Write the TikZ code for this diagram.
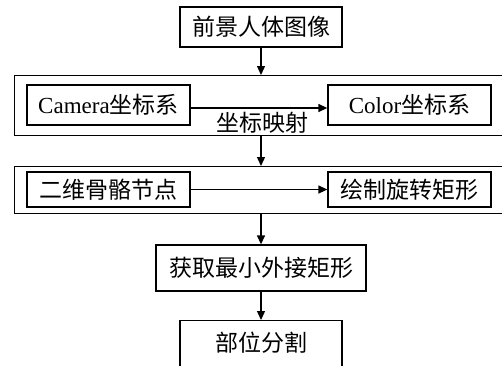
\documentclass[tikz,border=0pt]{standalone}
\usepackage{fontspec}
\setmainfont{Liberation Serif}
\newfontfamily\cjk{Noto Sans CJK SC}
\usetikzlibrary{arrows.meta}
\begin{document}
\begin{tikzpicture}[x=1pt,y=-1pt,
  box/.style={draw,line width=1.3pt,inner sep=0pt,font=\fontsize{23}{25}\selectfont},
  frame/.style={draw,line width=1.3pt,minimum width=500pt,anchor=north west,inner sep=0pt},
  arr/.style={line width=1.3pt,-{Triangle[length=9pt,width=8pt]}},
  lbl/.style={font=\fontsize{23}{25}\selectfont,inner sep=0pt}]
\useasboundingbox (0,0) rectangle (502,365);
% outer frames
\node[frame,minimum height=60pt] (f1) at (14,75) {};
\node[frame,minimum height=47pt] (f2) at (14,166) {};
% boxes
\node[box,minimum width=162pt,minimum height=40pt] (a) at (261,27) {\cjk 前景人体图像};
\node[box,minimum width=163pt,minimum height=40pt] (cam) at (108.5,105) {Camera{\cjk 坐标系}};
\node[box,minimum width=163pt,minimum height=40pt] (col) at (409.5,105) {Color{\cjk 坐标系}};
\node[box,minimum width=163pt,minimum height=35pt] (ske) at (108.5,189.5) {\cjk 二维骨骼节点};
\node[box,minimum width=163pt,minimum height=35pt] (rot) at (409.5,189.5) {\cjk 绘制旋转矩形};
\node[box,minimum width=210pt,minimum height=46pt] (min) at (261,268) {\cjk 获取最小外接矩形};
\node[box,minimum width=162pt,minimum height=55pt,anchor=north] (seg) at (261,320) {};
\node[lbl] (segt) at (261,343) {\cjk 部位分割};
\node[lbl] (map) at (262,123) {\cjk 坐标映射};
% connectors
\draw[arr] (a.south) -- (f1.north -| a.south);
\draw[arr] (cam.east |- 0,108) -- (col.west |- 0,108);
\draw[arr] (f1.south -| a.south) -- (f2.north -| a.south);
\draw[arr] (ske.east) -- (rot.west);
\draw[arr] (f2.south -| a.south) -- (min.north);
\draw[arr] (min.south) -- (seg.north);
\end{tikzpicture}
\end{document}
